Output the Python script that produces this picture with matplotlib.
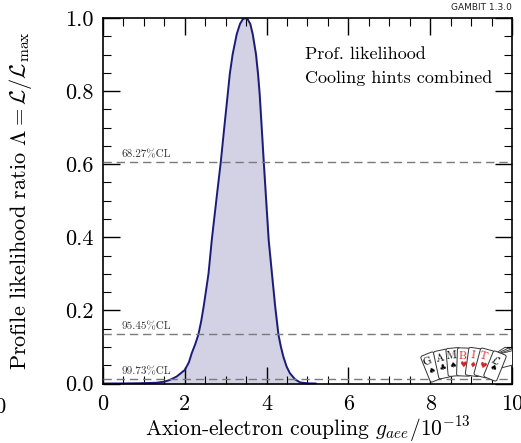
import matplotlib
matplotlib.use("Agg")
import matplotlib.pyplot as plt
from matplotlib.patches import FancyBboxPatch
from matplotlib.transforms import Affine2D

plt.rcParams['font.family'] = 'serif'
plt.rcParams['font.serif'] = ['cmr10', 'DejaVu Serif']
plt.rcParams['mathtext.fontset'] = 'cm'
plt.rcParams['axes.formatter.use_mathtext'] = True

# profile likelihood
g_aee = [0.0, 0.5, 0.9, 1.3, 1.5, 1.63, 1.8, 2.0, 2.1, 2.17, 2.25, 2.33, 2.4,
         2.46, 2.52, 2.58, 2.66, 2.72, 2.8, 2.88, 2.96, 3.05, 3.10, 3.17, 3.27,
         3.35, 3.42, 3.48, 3.54, 3.60, 3.66, 3.74, 3.79, 3.83, 3.88, 3.93, 3.99,
         4.05, 4.13, 4.21, 4.29, 4.35, 4.41, 4.49, 4.57, 4.7, 4.82, 5.0, 5.2]
like = [0.0, 0.0002, 0.0008, 0.002, 0.005, 0.0096, 0.019, 0.037, 0.058, 0.083,
        0.106, 0.133, 0.17, 0.21, 0.255, 0.301, 0.393, 0.452, 0.53, 0.6065,
        0.695, 0.792, 0.847, 0.901, 0.956, 0.984, 0.997, 1.0, 0.996, 0.984,
        0.956, 0.901, 0.847, 0.792, 0.70, 0.6065, 0.50, 0.393, 0.301, 0.210,
        0.133, 0.10, 0.073, 0.046, 0.028, 0.011, 0.003, 0.0005, 0.0]

cl_levels = [0.6065, 0.1353, 0.0111]
cl_labels = ['68.27%CL', '95.45%CL', '99.73%CL']

fig = plt.figure(figsize=(5.21, 4.43), dpi=100)
ax = fig.add_axes([0.1977, 0.1343, 0.785, 0.825])

ax.fill_between(g_aee, like, 0, color='#d2d2e4', zorder=1)
ax.plot(g_aee, like, color='#1c1c78', lw=1.4, zorder=2)

for lev, lab in zip(cl_levels, cl_labels):
    ax.axhline(lev, color='#7a7a7a', ls=(0, (6, 3.5)), lw=1.0, zorder=3)
    ax.text(0.45, lev + 0.008, lab, fontsize=8, color='#333333', va='bottom')

ax.set_xlim(0, 10)
ax.set_ylim(0, 1)
ax.set_xticks([0, 2, 4, 6, 8, 10])
ax.set_xticks([i * 0.5 for i in range(21)], minor=True)
ax.set_yticks([0, 0.2, 0.4, 0.6, 0.8, 1.0])
ax.set_yticks([i * 0.05 for i in range(21)], minor=True)
ax.tick_params(which='both', direction='in', top=True, right=True, labelsize=16)
ax.tick_params(which='major', length=12, width=1.0)
ax.tick_params(which='minor', length=6, width=0.8)
ax.set_xticklabels(['0', '2', '4', '6', '8', '10'])
ax.set_yticklabels(['0.0', '0.2', '0.4', '0.6', '0.8', '1.0'])
ax.tick_params(axis='x', pad=8)
ax.tick_params(axis='y', pad=7)
for s in ax.spines.values():
    s.set_linewidth(1.2)

ax.set_xlabel(r'Axion-electron coupling $g_{aee}/10^{-13}$', fontsize=15.5, labelpad=0)
ax.set_ylabel(r'Profile likelihood ratio $\Lambda=\mathcal{L}/\mathcal{L}_\mathrm{max}$',
              fontsize=16, labelpad=22)

ax.text(0.494, 0.90, 'Prof. likelihood', transform=ax.transAxes, fontsize=13, va='center')
ax.text(0.494, 0.835, 'Cooling hints combined', transform=ax.transAxes, fontsize=13, va='center')

fig.text(0.983, 0.982, 'GAMBIT 1.3.0', ha='right', va='center', fontsize=6.5,
         family='DejaVu Sans', color='#222222')
fig.text(0.012, 1 - 407 / 443, '10', ha='right', va='center', fontsize=16)

# GAMBIT card logo
lg = fig.add_axes([410 / 521, (443 - 384) / 443, 102 / 521, 56 / 443])
lg.set_xlim(0, 102)
lg.set_ylim(0, 56)
lg.axis('off')
backs = [(88, 24, -58), (90, 24, -64), (92, 24, -70), (94, 24, -76)]
for cx, cy, rot in backs:
    p = FancyBboxPatch((cx - 7, cy - 14), 14, 28, boxstyle='round,pad=0,rounding_size=2',
                       fc='white', ec='#444444', lw=0.7)
    p.set_transform(Affine2D().rotate_deg_around(cx, cy, rot) + lg.transData)
    lg.add_patch(p)
cards = [('G', '\u2660', 'black', 22, 17, 22), ('A', '\u2663', 'black', 33, 20, 12),
         ('M', '\u2660', 'black', 44, 22, 5), ('B', '\u2665', '#d62020', 54, 22, -2),
         ('I', '\u2666', '#d62020', 64, 22, -8), ('T', '\u2665', '#d62020', 74, 21, -15),
         (r'$\mathcal{L}$', '\u2660', 'black', 85, 18, -22)]
for let, suit, col, cx, cy, rot in cards:
    p = FancyBboxPatch((cx - 7, cy - 14), 14, 28, boxstyle='round,pad=0,rounding_size=2',
                       fc='white', ec='#333333', lw=0.7)
    tr = Affine2D().rotate_deg_around(cx, cy, rot) + lg.transData
    p.set_transform(tr)
    lg.add_patch(p)
    lg.text(cx - 2, cy + 6, let, color=col, fontsize=8, ha='center', va='center',
            rotation=rot, transform=tr)
    lg.text(cx - 1, cy - 3, suit, color=col, fontsize=6, ha='center', va='center',
            rotation=rot, transform=tr, family='DejaVu Sans')

fig.savefig('out.png', dpi=100)
